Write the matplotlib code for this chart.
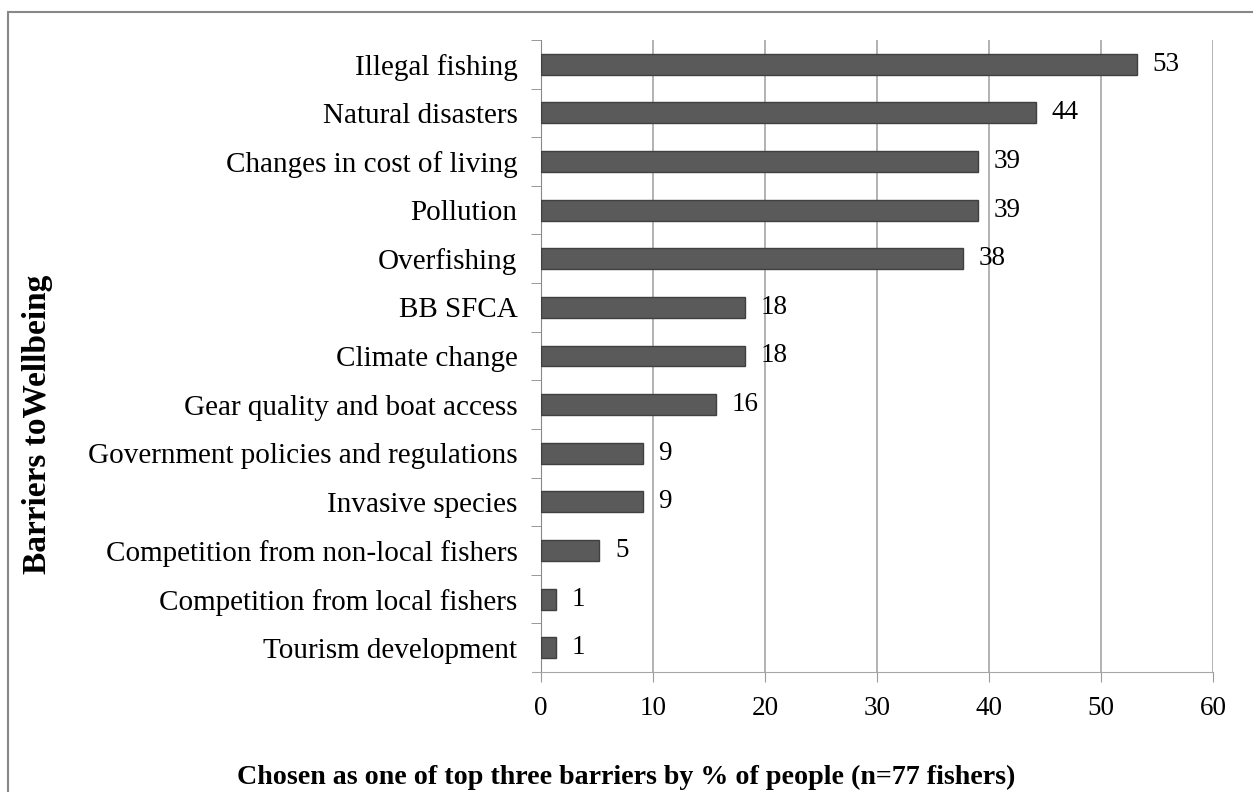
import matplotlib.pyplot as plt
from matplotlib.patches import Rectangle

barriers = ["Illegal fishing", "Natural disasters", "Changes in cost of living",
            "Pollution", "Overfishing", "BB SFCA", "Climate change",
            "Gear quality and boat access", "Government policies and regulations",
            "Invasive species", "Competition from non-local fishers",
            "Competition from local fishers", "Tourism development"]
percent = [53.2, 44.2, 39.0, 39.0, 37.7, 18.2, 18.2, 15.6, 9.1, 9.1, 5.2, 1.3, 1.3]
labels = ["53", "44", "39", "39", "38", "18", "18", "16", "9", "9", "5", "1", "1"]

plt.rcParams['font.family'] = ['Liberation Serif', 'DejaVu Serif']

fig = plt.figure(figsize=(12.53, 7.92), dpi=100)
ax = fig.add_axes([541 / 1253, 1 - 672 / 792, (1213 - 541) / 1253, (672 - 40) / 792])

# outer border (only top and left fall inside the image)
fig.patches.append(Rectangle((8 / 1253, -0.1), 1.2, (792 - 12) / 792 + 0.1,
                             transform=fig.transFigure, fill=False,
                             edgecolor='#888888', linewidth=1.5))

y = list(range(len(barriers)))[::-1]
ax.barh(y, percent, height=0.43, color='#5a5a5a', edgecolor='#404040',
        linewidth=1, zorder=3)
for yi, v, t in zip(y, percent, labels):
    ax.text(v + 1.4, yi, t, va='center', ha='left', fontsize=19.5)

ax.set_xlim(0, 60)
ax.set_ylim(-0.5, len(barriers) - 0.5)
ax.set_xticks(range(0, 61, 10))
ax.set_yticks(y)
ax.set_yticklabels(barriers)
ax.set_yticks([i + 0.5 for i in range(len(barriers))], minor=True)
ax.tick_params(axis='y', which='major', length=0, pad=17, labelsize=21)
ax.tick_params(axis='y', which='minor', length=7, color='#888888', direction='out')
ax.tick_params(axis='x', length=7, color='#999999', pad=10, labelsize=19.5)

ax.grid(axis='x', color='#a6a6a6', linewidth=1.2, zorder=0)
for s in ['top', 'right']:
    ax.spines[s].set_visible(False)
ax.spines['left'].set_color('#888888')
ax.spines['bottom'].set_color('#a6a6a6')
ax.spines['bottom'].set_bounds(-0.8, 60)
ax.spines['left'].set_bounds(-0.5, len(barriers) - 0.5)

fig.text(38 / 1253, 1 - 424 / 792, "Barriers toWellbeing", rotation=90,
         va='center', ha='center', fontsize=24, fontweight='bold')
fig.text(626 / 1253, 1 - 777 / 792,
         "Chosen as one of top three barriers by % of people (n=77 fishers)",
         va='center', ha='center', fontsize=20.2, fontweight='bold')

fig.savefig("out.png", dpi=100)
